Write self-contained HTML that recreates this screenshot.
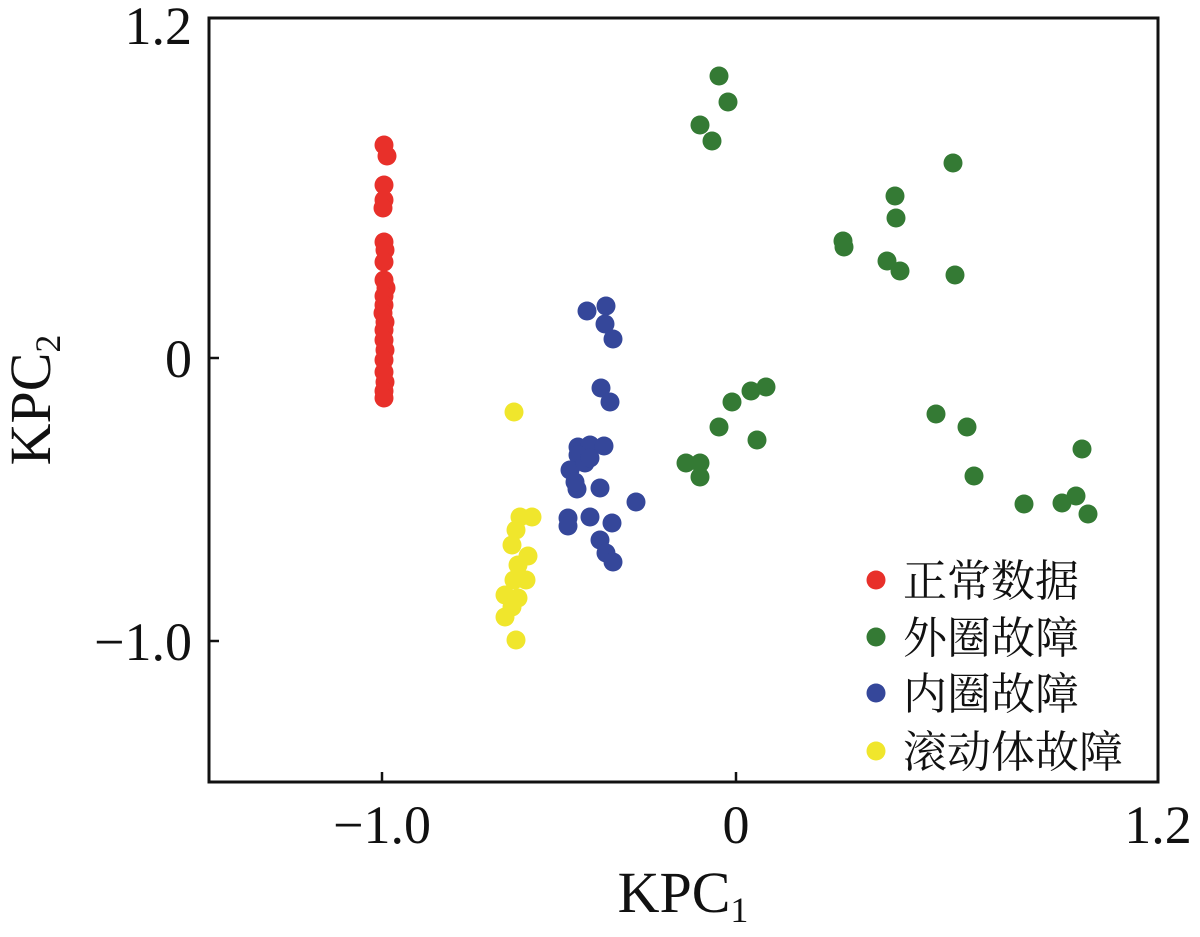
<!DOCTYPE html>
<html><head><meta charset="utf-8"><style>
body{margin:0;background:#fff}
text{font-family:"Liberation Serif","Noto Serif CJK SC",serif;fill:#111}
</style></head><body>
<svg width="1200" height="932" xmlns="http://www.w3.org/2000/svg">
<rect x="209" y="18" width="949" height="764" fill="none" stroke="#111" stroke-width="3"/>
<g stroke="#111" stroke-width="2.5">
<line x1="382" y1="782" x2="382" y2="772"/><line x1="736" y1="782" x2="736" y2="772"/>
<line x1="209" y1="358" x2="219" y2="358"/><line x1="209" y1="641" x2="219" y2="641"/>
</g>
<g font-size="54">
<text x="382" y="843" text-anchor="middle">−1.0</text>
<text x="736" y="843" text-anchor="middle">0</text>
<text x="1158" y="843" text-anchor="middle">1.2</text>
<text x="192" y="44" text-anchor="end">1.2</text>
<text x="192" y="377" text-anchor="end">0</text>
<text x="192" y="660" text-anchor="end">−1.0</text>
<text x="683" y="912" text-anchor="middle" font-size="58">KPC<tspan font-size="36" dy="10">1</tspan></text>
<text transform="translate(50,400) rotate(-90)" text-anchor="middle" font-size="58">KPC<tspan font-size="36" dy="10">2</tspan></text>
</g>
<g fill="#e8302a">
<circle cx="384" cy="145" r="9.5"/><circle cx="387" cy="156" r="9.5"/><circle cx="384" cy="185" r="9.5"/><circle cx="384" cy="200" r="9.5"/><circle cx="383" cy="208" r="9.5"/><circle cx="384" cy="242" r="9.5"/><circle cx="385" cy="250" r="9.5"/><circle cx="384" cy="262" r="9.5"/><circle cx="384" cy="280" r="9.5"/><circle cx="386" cy="288" r="9.5"/><circle cx="384" cy="296" r="9.5"/><circle cx="384" cy="305" r="9.5"/><circle cx="383" cy="313" r="9.5"/><circle cx="385" cy="322" r="9.5"/><circle cx="384" cy="330" r="9.5"/><circle cx="384" cy="340" r="9.5"/><circle cx="385" cy="350" r="9.5"/><circle cx="384" cy="360" r="9.5"/><circle cx="384" cy="372" r="9.5"/><circle cx="385" cy="382" r="9.5"/><circle cx="384" cy="391" r="9.5"/><circle cx="384" cy="398" r="9.5"/>
</g>
<g fill="#347a34">
<circle cx="719" cy="76" r="9.5"/><circle cx="728" cy="102" r="9.5"/><circle cx="700" cy="125" r="9.5"/><circle cx="712" cy="141" r="9.5"/><circle cx="953" cy="163" r="9.5"/><circle cx="895" cy="196" r="9.5"/><circle cx="896" cy="218" r="9.5"/><circle cx="843" cy="241" r="9.5"/><circle cx="844" cy="247" r="9.5"/><circle cx="887" cy="261" r="9.5"/><circle cx="900" cy="271" r="9.5"/><circle cx="955" cy="275" r="9.5"/><circle cx="936" cy="414" r="9.5"/><circle cx="967" cy="427" r="9.5"/><circle cx="974" cy="476" r="9.5"/><circle cx="1024" cy="504" r="9.5"/><circle cx="1062" cy="503" r="9.5"/><circle cx="1076" cy="496" r="9.5"/><circle cx="1088" cy="514" r="9.5"/><circle cx="1082" cy="449" r="9.5"/><circle cx="766" cy="387" r="9.5"/><circle cx="751" cy="391" r="9.5"/><circle cx="732" cy="402" r="9.5"/><circle cx="719" cy="427" r="9.5"/><circle cx="757" cy="440" r="9.5"/><circle cx="686" cy="463" r="9.5"/><circle cx="700" cy="463" r="9.5"/><circle cx="700" cy="477" r="9.5"/>
</g>
<g fill="#35479a">
<circle cx="587" cy="311" r="9.5"/><circle cx="606" cy="306" r="9.5"/><circle cx="605" cy="324" r="9.5"/><circle cx="613" cy="339" r="9.5"/><circle cx="601" cy="388" r="9.5"/><circle cx="610" cy="402" r="9.5"/><circle cx="578" cy="447" r="9.5"/><circle cx="590" cy="445" r="9.5"/><circle cx="604" cy="446" r="9.5"/><circle cx="578" cy="455" r="9.5"/><circle cx="570" cy="470" r="9.5"/><circle cx="585" cy="463" r="9.5"/><circle cx="577" cy="489" r="9.5"/><circle cx="600" cy="488" r="9.5"/><circle cx="636" cy="502" r="9.5"/><circle cx="568" cy="518" r="9.5"/><circle cx="590" cy="517" r="9.5"/><circle cx="612" cy="523" r="9.5"/><circle cx="600" cy="540" r="9.5"/><circle cx="606" cy="553" r="9.5"/><circle cx="613" cy="562" r="9.5"/><circle cx="568" cy="526" r="9.5"/><circle cx="575" cy="482" r="9.5"/><circle cx="590" cy="458" r="9.5"/>
</g>
<g fill="#f0e62c">
<circle cx="514" cy="412" r="9.5"/><circle cx="520" cy="517" r="9.5"/><circle cx="532" cy="517" r="9.5"/><circle cx="516" cy="530" r="9.5"/><circle cx="512" cy="545" r="9.5"/><circle cx="528" cy="556" r="9.5"/><circle cx="518" cy="565" r="9.5"/><circle cx="514" cy="580" r="9.5"/><circle cx="526" cy="580" r="9.5"/><circle cx="505" cy="595" r="9.5"/><circle cx="518" cy="598" r="9.5"/><circle cx="512" cy="607" r="9.5"/><circle cx="505" cy="617" r="9.5"/><circle cx="516" cy="640" r="9.5"/>
</g>
<circle cx="876" cy="580" r="9.5" fill="#e8302a"/>
<circle cx="876" cy="637" r="9.5" fill="#347a34"/>
<circle cx="876" cy="693" r="9.5" fill="#35479a"/>
<circle cx="876" cy="751" r="9.5" fill="#f0e62c"/>
<g font-size="44">
<text x="903" y="596">正常数据</text>
<text x="903" y="653">外圈故障</text>
<text x="903" y="709">内圈故障</text>
<text x="903" y="767">滚动体故障</text>
</g>
</svg>
</body></html>
